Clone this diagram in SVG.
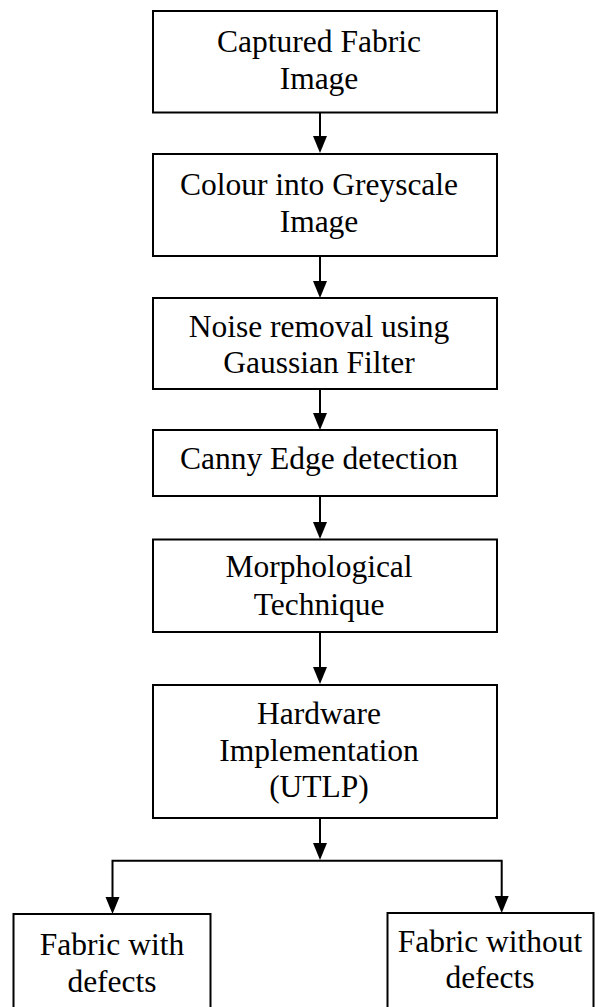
<svg xmlns="http://www.w3.org/2000/svg" width="606" height="1007" viewBox="0 0 606 1007">
<style>
.box{fill:#fff;stroke:#000;stroke-width:2}
.t{font-family:"Liberation Serif","Times New Roman",serif;font-size:31.5px;fill:#000;text-anchor:middle}
.c{stroke:#000;stroke-width:2;fill:none}
.h{fill:#000}
</style>
<defs>
<path id="ah" d="M-7,0 L7,0 L0,17 Z"/>
</defs>
<rect width="606" height="1007" fill="#fff"/>
<g id="n1"><rect class="box" x="153" y="11" width="344" height="101.5"/><text class="t" x="319" y="51.7">Captured Fabric</text><text class="t" x="319" y="89">Image</text></g>
<g id="n2"><rect class="box" x="153" y="154" width="344" height="102"/><text class="t" x="319" y="194.5">Colour into Greyscale</text><text class="t" x="319" y="231.7">Image</text></g>
<g id="n3"><rect class="box" x="153" y="298" width="344" height="91"/><text class="t" x="319" y="336.7">Noise removal using</text><text class="t" x="319" y="373">Gaussian Filter</text></g>
<g id="n4"><rect class="box" x="153" y="430" width="344" height="66"/><text class="t" x="319" y="469">Canny Edge detection</text></g>
<g id="n5"><rect class="box" x="153" y="539.5" width="344" height="92.5"/><text class="t" x="319" y="576.7">Morphological</text><text class="t" x="319" y="615">Technique</text></g>
<g id="n6"><rect class="box" x="153" y="685" width="344" height="133"/><text class="t" x="319" y="724">Hardware</text><text class="t" x="319" y="760.7">Implementation</text><text class="t" x="319" y="796.7">(UTLP)</text></g>
<g id="n7"><rect class="box" x="13.5" y="914" width="197" height="110"/><text class="t" x="112" y="955">Fabric with</text><text class="t" x="112" y="991.7">defects</text></g>
<g id="n8"><rect class="box" x="387.5" y="913" width="206" height="110"/><text class="t" x="490" y="952">Fabric without</text><text class="t" x="490" y="988">defects</text></g>
<g id="connectors">
<line class="c" x1="320" y1="112.5" x2="320" y2="137"/><use href="#ah" class="h" x="320" y="136"/>
<line class="c" x1="320" y1="256" x2="320" y2="282"/><use href="#ah" class="h" x="320" y="281"/>
<line class="c" x1="320" y1="389" x2="320" y2="414"/><use href="#ah" class="h" x="320" y="413"/>
<line class="c" x1="320" y1="496" x2="320" y2="523"/><use href="#ah" class="h" x="320" y="522"/>
<line class="c" x1="320" y1="632" x2="320" y2="668"/><use href="#ah" class="h" x="320" y="667"/>
<line class="c" x1="320" y1="818" x2="320" y2="844"/><use href="#ah" class="h" x="320" y="843"/>
<polyline class="c" points="112.5,898 112.5,860.7 501.7,860.7 501.7,897"/>
<use href="#ah" class="h" x="112.5" y="897"/>
<use href="#ah" class="h" x="501.7" y="896"/>
</g>
</svg>
